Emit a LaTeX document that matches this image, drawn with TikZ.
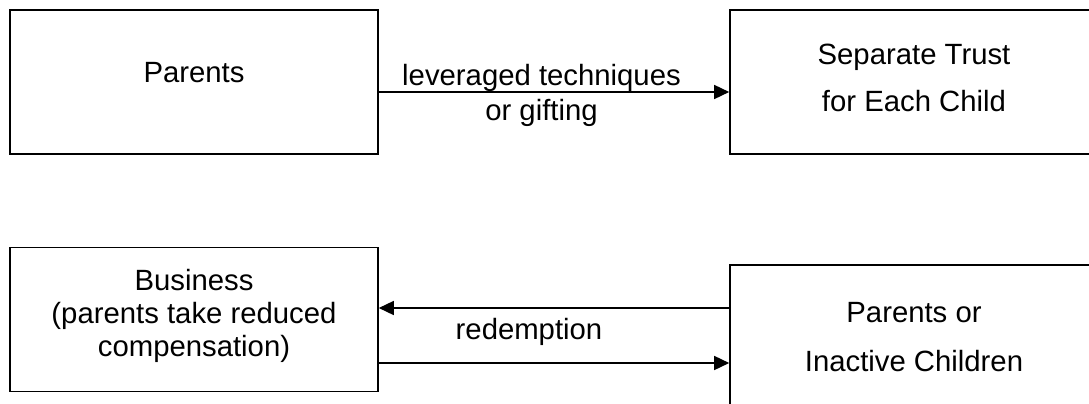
\documentclass[tikz,border=0pt]{standalone}
\usepackage{fontspec}
\setmainfont{Liberation Sans}
\usetikzlibrary{arrows.meta}
\begin{document}
\begin{tikzpicture}[x=1pt,y=-1pt,
  every node/.style={font=\fontsize{29.3}{33}\selectfont},
  box/.style={draw, line width=1.6pt, rectangle, minimum width=368pt, minimum height=144pt, align=center, inner sep=0pt},
  flow/.style={line width=1.5pt, -{Triangle[length=15pt,width=14pt]}},
  lbl/.style={align=center, inner sep=0pt}]
\path[use as bounding box, clip] (0,0) rectangle (1089,404);
\node[box, text depth=20pt] (par) at (194,82) {Parents};
\node[box, text depth=8pt] (trust) at (914,82) {Separate Trust\\[14pt]for Each Child};
\node[box, text depth=14pt] (bus) at (194,319.5) {Business\\(parents take reduced\\compensation)};
\node[box] (inact) at (914,337) {Parents or\\[16pt]Inactive Children};
\coordinate (t1) at (0,92);
\coordinate (b1) at (0,308);
\coordinate (b2) at (0,363);
\draw[flow] (par.east |- t1) -- (trust.west |- t1);
\draw[flow] (inact.west |- b1) -- (bus.east |- b1);
\draw[flow] (bus.east |- b2) -- (inact.west |- b2);
\node[lbl] (lev) at (541.5,95) {leveraged techniques\\[2pt]or gifting};
\node[lbl] (red) at (529,332) {redemption};

\end{tikzpicture}
\end{document}
